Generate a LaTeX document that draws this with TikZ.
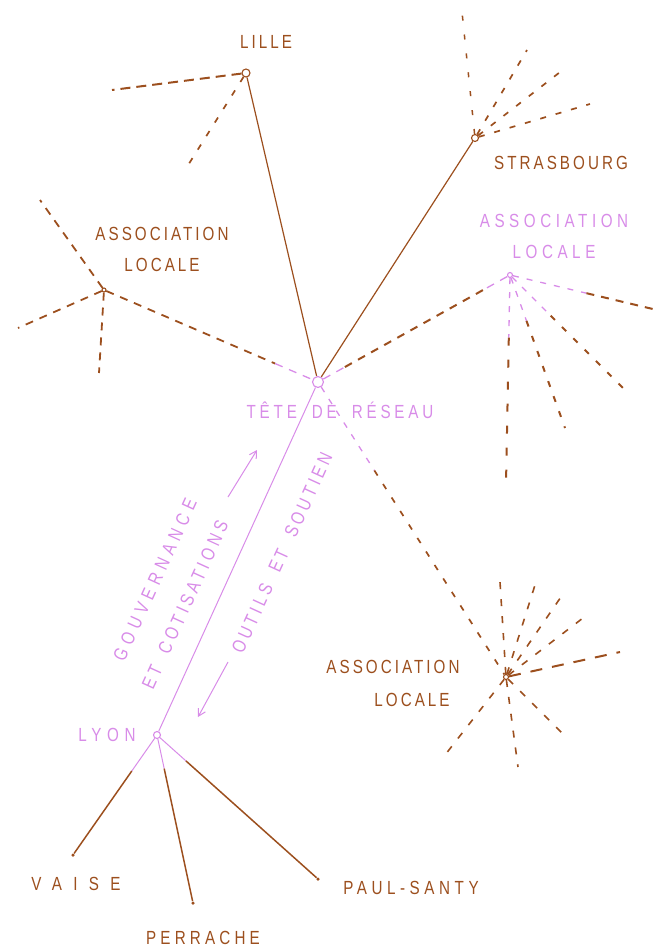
\documentclass[tikz,border=0pt]{standalone}
\usepackage{fontspec}
\newfontfamily\hand{Liberation Sans}[LetterSpace=16,FakeStretch=0.8]
\usetikzlibrary{calc,arrows.meta}
\definecolor{ink}{HTML}{9C4F1E}
\definecolor{pk}{HTML}{D88CE8}
\newcommand{\ls}[1]{\addfontfeature{LetterSpace=#1}}
\newcommand{\wsp}{\hspace*{15pt}}
\begin{document}
\begin{tikzpicture}[x=1pt,y=-1pt,
  lab/.style={font=\hand\fontsize{19}{31}\selectfont, text=ink, align=center, inner sep=0},
  plab/.style={lab, text=pk},
  rlab/.style={plab, rotate=65.5},
  hub/.style={circle, draw=ink, line width=1.1pt, inner sep=0, minimum size=6pt, fill=white},
  phub/.style={hub, draw=pk},
  tip/.style={circle, fill=ink, inner sep=0, minimum size=3.5pt},
  solidb/.style={draw=ink, line width=1.2pt},
  solidp/.style={draw=pk, line width=1pt},
  dashb/.style={draw=ink, line width=2pt, dash pattern=on 8pt off 7pt},
  dashp/.style={draw=pk, line width=1.3pt, dash pattern=on 8pt off 7pt},
  sdash/.style={draw=ink, line width=2pt, dash pattern=on 6pt off 10pt},
  sdashp/.style={draw=pk, line width=1.3pt, dash pattern=on 6pt off 8pt},
  flow/.style={draw=pk, line width=1pt, -{Straight Barb[length=7pt,width=8pt]}},
  ]
\useasboundingbox (0,0) rectangle (658,950);

% free ends
\coordinate (li1) at (112,90);
\coordinate (li2) at (185,170);
\coordinate (st1) at (462,12);
\coordinate (st2) at (527,50);
\coordinate (st3) at (564,69);
\coordinate (st4) at (590,104);
\coordinate (al1) at (40,200);
\coordinate (al2) at (18,328);
\coordinate (al3) at (99,373);
\coordinate (ar1) at (657,310);
\coordinate (ar2) at (623,388);
\coordinate (ar3) at (565,428);
\coordinate (ar4) at (506,484);
\coordinate (ab1) at (500,582);
\coordinate (ab2) at (535,585);
\coordinate (ab3) at (563,594);
\coordinate (ab4) at (583,618);
\coordinate (ab5) at (620,652);
\coordinate (ab6) at (567,738);
\coordinate (ab7) at (518,767);
\coordinate (ab8) at (445,755);
\coordinate (gA) at (228,497);
\coordinate (gB) at (257,450);
\coordinate (oA) at (228,662);
\coordinate (oB) at (198,717);

% nodes
\node[hub, minimum size=8pt] (lille) at (246,73) {};
\node[hub, draw=pk, minimum size=11pt] (tdr) at (318,382) {};
\node[hub, minimum size=7pt] (stras) at (475,138) {};
\node[hub, minimum size=4pt] (alL) at (104,290) {};
\node[phub, minimum size=5pt] (alR) at (510,275) {};
\node[hub, minimum size=5pt] (alB) at (506,677) {};
\node[phub, minimum size=7pt] (lyon) at (157,735) {};
\node[tip] (vaise) at (73,855) {};
\node[tip] (perr) at (193,903) {};
\node[tip] (paul) at (318,879) {};

% Lille
\draw[dashb, dash pattern=on 10pt off 6pt] (lille) -- (li1);
\draw[sdash, line width=1.7pt] (lille) -- (li2);
\draw[solidb] (lille) -- (tdr);
% Strasbourg
\draw[solidb] (stras) -- (tdr);
\draw[sdash, line width=1.5pt, dash pattern=on 5pt off 14pt] (stras) -- (st1);
\foreach \e in {st2,st3,st4} \draw[sdash, line width=1.7pt] (stras) -- (\e);
% left association
\foreach \e in {al1,al2,al3} \draw[dashb, line width=1.8pt] (alL) -- (\e);
\draw[dashb, line width=1.8pt] (alL) -- ($(alL)!0.8!(tdr)$);
\draw[dashp] ($(alL)!0.8!(tdr)$) -- (tdr);
% right association
\draw[dashp] (tdr) -- ($(tdr)!0.14!(alR)$);
\draw[dashb] ($(tdr)!0.14!(alR)$) -- ($(tdr)!0.88!(alR)$);
\draw[dashp] ($(tdr)!0.88!(alR)$) -- (alR);
\draw[sdashp] (alR) -- ($(alR)!0.52!(ar1)$);
\draw[dashb] ($(alR)!0.52!(ar1)$) -- (ar1);
\draw[sdashp] (alR) -- ($(alR)!0.36!(ar2)$);
\draw[sdash] ($(alR)!0.36!(ar2)$) -- (ar2);
\draw[sdashp] (alR) -- ($(alR)!0.3!(ar3)$);
\draw[sdash] ($(alR)!0.3!(ar3)$) -- (ar3);
\draw[sdashp] (alR) -- ($(alR)!0.3!(ar4)$);
\draw[sdash, dash pattern=on 8pt off 14pt] ($(alR)!0.3!(ar4)$) -- (ar4);
% bottom association
\draw[sdashp] (tdr) -- ($(tdr)!0.3!(alB)$);
\draw[sdash, line width=1.7pt] ($(tdr)!0.3!(alB)$) -- (alB);
\foreach \e in {ab1,ab2,ab3,ab4,ab6,ab7,ab8} \draw[sdash, line width=1.6pt, dash pattern=on 7pt off 10pt] (alB) -- (\e);
\draw[dashb, dash pattern=on 12pt off 10pt] (alB) -- (ab5);
% Lyon
\draw[solidp] (tdr) -- (lyon);
\draw[solidp] (lyon) -- ($(lyon)!0.3!(vaise)$);
\draw[solidb, line width=1.5pt] ($(lyon)!0.3!(vaise)$) -- (vaise);
\draw[solidp] (lyon) -- ($(lyon)!0.2!(perr)$);
\draw[solidb, line width=1.5pt] ($(lyon)!0.2!(perr)$) -- (perr);
\draw[solidp] (lyon) -- ($(lyon)!0.18!(paul)$);
\draw[solidb, line width=1.5pt] ($(lyon)!0.18!(paul)$) -- (paul);
% flows
\draw[flow] (gA) -- (gB);
\draw[flow] (oA) -- (oB);

% labels
\node[lab] (lilleL) at (266,42) {LILLE};
\node[lab] (strasL) at (561,163) {STRASBOURG};
\node[lab] (alLL) at (162,249) {ASSOCIATION\\LOCALE};
\node[plab] (alRL) at (554,236) {\ls{24}ASSOCIATION\\\ls{24}LOCALE};
\node[lab] (alBL1) at (393,667) {ASSOCIATION};
\node[lab] (alBL2) at (412,700) {LOCALE};
\node[plab] (tdrL) at (340,410) {\ls{20}TÊTE\wsp DE\wsp RÉSEAU};
\node[plab] (lyonL) at (107,735) {\ls{30}LYON};
\node[lab] (vaiseL) at (76,884) {\ls{60}VAISE};
\node[lab] (perrL) at (203,938) {\ls{22}PERRACHE};
\node[lab] (paulL) at (411,888) {\ls{24}PAUL-SANTY};
\node[rlab] (gouv) at (155,580) {\ls{30}GOUVERNANCE};
\node[rlab] (coti) at (185,605) {\ls{22}ET\wsp COTISATIONS};
\node[rlab] (outi) at (282,553) {\ls{20}OUTILS\wsp ET\wsp SOUTIEN};
\end{tikzpicture}
\end{document}
